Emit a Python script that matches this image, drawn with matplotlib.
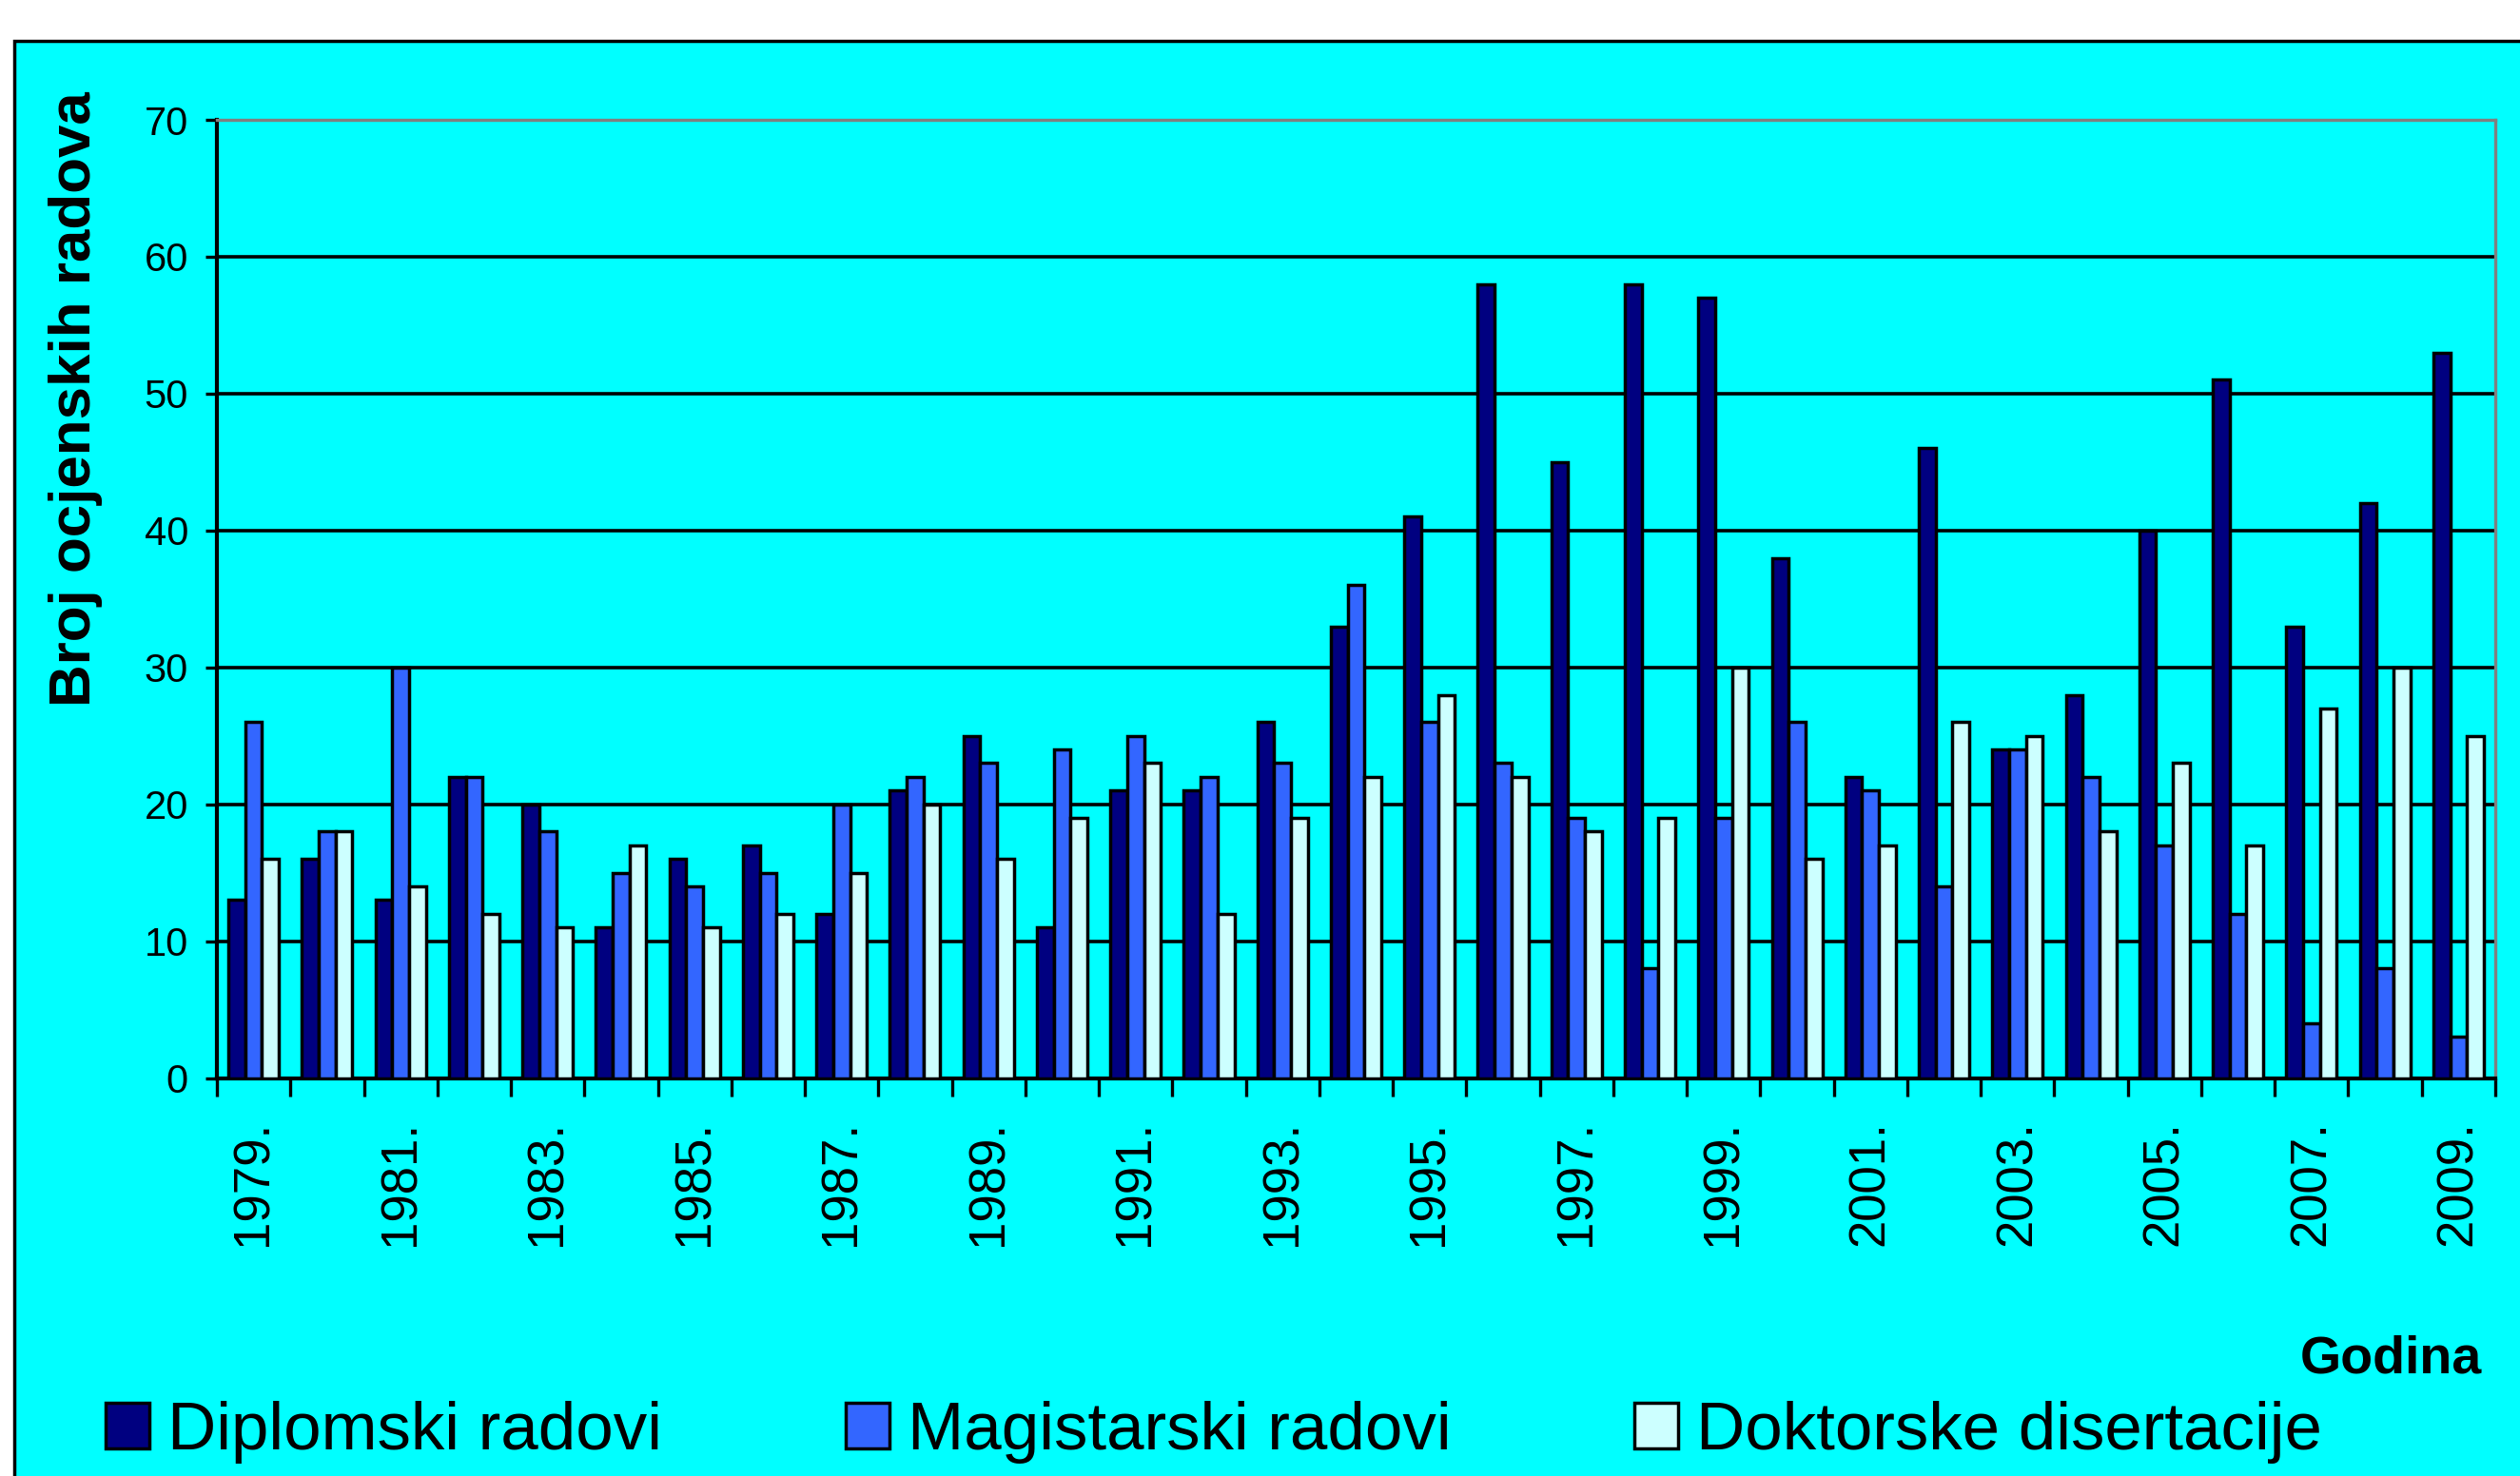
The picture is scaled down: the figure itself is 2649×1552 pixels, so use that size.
import numpy as np
import matplotlib
matplotlib.use("Agg")
import matplotlib.pyplot as plt
from matplotlib.patches import Rectangle, Patch

plt.rcParams['font.family'] = ['Liberation Sans', 'DejaVu Sans']

years = [str(y) for y in range(1979, 2010)]
tick_labels = [f"{y}." for y in range(1979, 2010, 2)]
series_names = ["Diplomski radovi", "Magistarski radovi", "Doktorske disertacije"]
diplomski = [13, 16, 13, 22, 20, 11, 16, 17, 12, 21, 25, 11, 21, 21, 26, 33,
             41, 58, 45, 58, 57, 38, 22, 46, 24, 28, 40, 51, 33, 42, 53]
magistarski = [26, 18, 30, 22, 18, 15, 14, 15, 20, 22, 23, 24, 25, 22, 23, 36,
               26, 23, 19, 8, 19, 26, 21, 14, 24, 22, 17, 12, 4, 8, 3]
doktorske = [16, 18, 14, 12, 11, 17, 11, 12, 15, 20, 16, 19, 23, 12, 19, 22,
             28, 22, 18, 19, 30, 16, 17, 26, 25, 18, 23, 17, 27, 30, 25]
colors = ["#000080", "#3366FF", "#CCFFFF"]
bg = "#00FFFF"

W, H = 2649, 1552
fig = plt.figure(figsize=(W / 100, H / 100), dpi=100)
fig.patch.set_facecolor("white")

# outer chart frame
frame = Rectangle((15 / W, -0.05), 1.1, 1 - 43 / H + 0.05, transform=fig.transFigure,
                  facecolor=bg, edgecolor="black", linewidth=2.5, zorder=0)
fig.add_artist(frame)

ax = fig.add_axes([228 / W, 1 - 1133.5 / H, (2623 - 228) / W, (1133.5 - 126) / H])
ax.set_facecolor(bg)
ax.set_axisbelow(True)

x = np.arange(len(years))
w = 0.229
for i, (vals, c, name) in enumerate(zip([diplomski, magistarski, doktorske], colors, series_names)):
    ax.bar(x + (i - 1) * w, vals, width=w, color=c, edgecolor="black", linewidth=2.5,
           label=name, zorder=3)

ax.set_xlim(-0.5, len(years) - 0.5)
ax.set_ylim(0, 70)
ax.yaxis.grid(True, color="black", linewidth=2.6)
ax.set_yticks(np.arange(0, 71, 10))
ax.tick_params(axis="y", length=8.6, width=2.4, pad=13, labelsize=30, direction="out")

ax.set_xticks(np.arange(-0.5, len(years), 1))
ax.set_xticklabels([])
ax.tick_params(axis="x", which="major", length=13.7, width=2.4, direction="out")
ax.set_xticks(np.arange(0, len(years), 2), minor=True)
ax.set_xticklabels(tick_labels, minor=True, rotation=90, fontsize=38)
ax.tick_params(axis="x", which="minor", length=0, pad=32)

for side in ["left", "bottom"]:
    ax.spines[side].set_color("black")
    ax.spines[side].set_linewidth(3.0)
for side in ["top", "right"]:
    ax.spines[side].set_color("#808080")
    ax.spines[side].set_linewidth(2.4)

fig.text(95 / W, 1 - 420 / H, "Broj ocjenskih radova", rotation=90, rotation_mode="anchor",
         ha="center", va="baseline", fontsize=44.6, fontweight="bold")
fig.text(2609 / W, 1 - 1444 / H, "Godina", ha="right", va="baseline",
         fontsize=40, fontweight="bold")

handles = [Patch(facecolor=c, edgecolor="black", linewidth=2.5) for c in colors]
fig.legend(handles, series_names, loc="center left", bbox_to_anchor=(111 / W, 1 - 1506 / H),
           ncol=3, frameon=False, fontsize=51, handlelength=0.65, handleheight=0.66,
           handletextpad=0.27, columnspacing=2.72, borderpad=0, borderaxespad=0)

fig.savefig("out.png", dpi=100, facecolor=fig.get_facecolor())
